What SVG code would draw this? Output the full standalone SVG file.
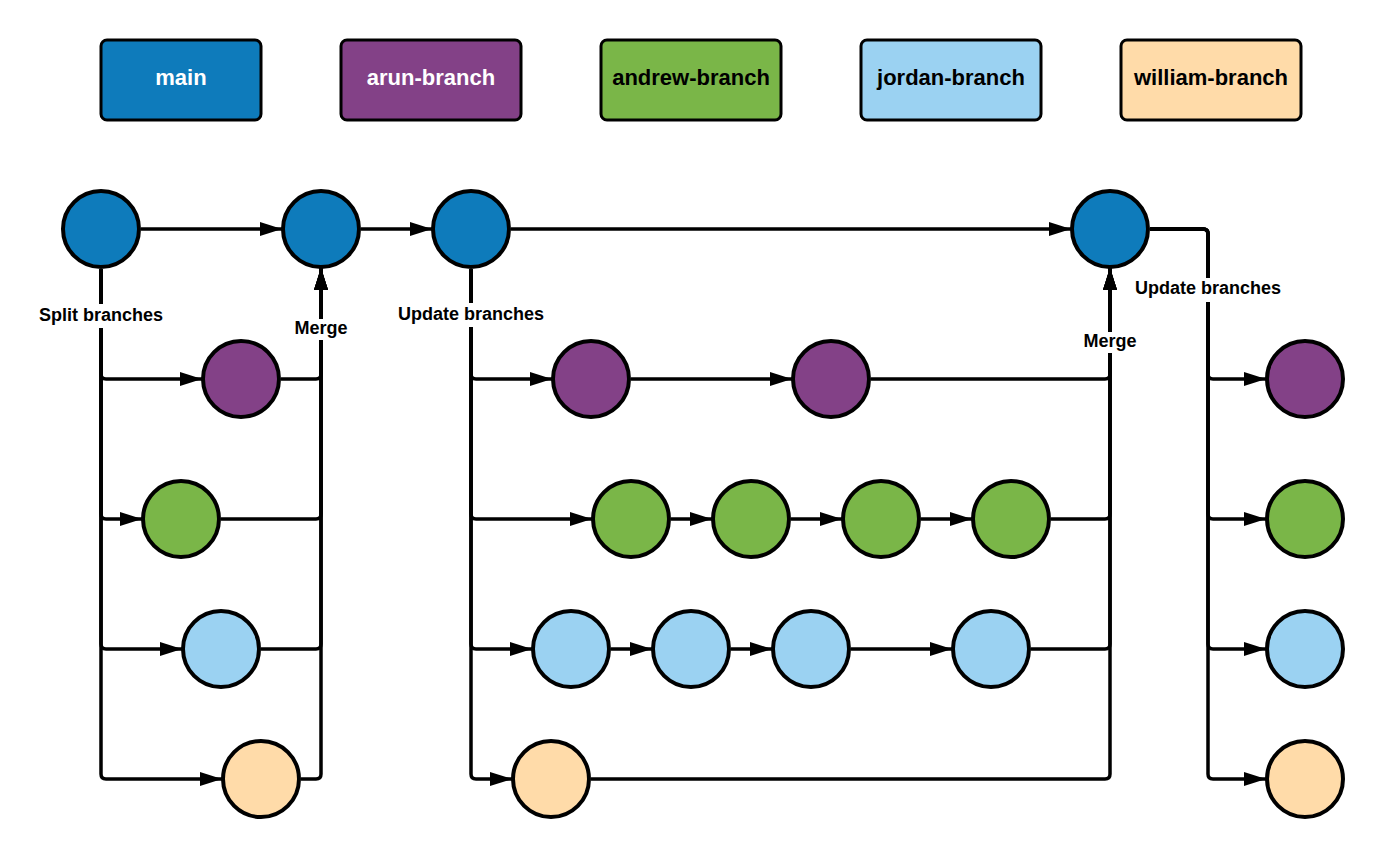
<svg xmlns="http://www.w3.org/2000/svg" width="1385" height="860" viewBox="0 0 1385 860">
<style>
.box{stroke:#000;stroke-width:3}
.lt{font-family:"Liberation Sans",Arial,sans-serif;font-weight:bold;font-size:22px;text-anchor:middle}
.c{stroke:#000;stroke-width:4}
.main{fill:#0e7bbb}.arun{fill:#834187}.andrew{fill:#7ab648}.jordan{fill:#9bd2f2}.william{fill:#ffdba9}
.conn path{fill:none;stroke:#000;stroke-width:3.5}
.lbl{font-family:"Liberation Sans",Arial,sans-serif;font-weight:bold;font-size:18px;text-anchor:middle;fill:#000}
.bg{fill:#fff}
</style>
<defs>
<marker id="ah" markerUnits="userSpaceOnUse" markerWidth="23" markerHeight="15" refX="22" refY="7" orient="auto" viewBox="0 0 23 15">
<path d="M0,0 L22,7 L0,14 z" fill="#000"/>
</marker>
</defs>
<rect width="1385" height="860" fill="#fff"/>
<g id="legend">
<g id="legend-main"><rect class="box main" x="101" y="40" width="160" height="80" rx="6"/><text class="lt" x="181" y="85" fill="#fff">main</text></g>
<g id="legend-arun"><rect class="box arun" x="341" y="40" width="180" height="80" rx="6"/><text class="lt" x="431" y="85" fill="#fff">arun-branch</text></g>
<g id="legend-andrew"><rect class="box andrew" x="601" y="40" width="180" height="80" rx="6"/><text class="lt" x="691" y="85" fill="#000">andrew-branch</text></g>
<g id="legend-jordan"><rect class="box jordan" x="861" y="40" width="180" height="80" rx="6"/><text class="lt" x="951" y="85" fill="#000">jordan-branch</text></g>
<g id="legend-william"><rect class="box william" x="1121" y="40" width="180" height="80" rx="6"/><text class="lt" x="1211" y="85" fill="#000">william-branch</text></g>
</g>
<g id="connectors" class="conn">
<path d="M141,229 H282" marker-end="url(#ah)"/>
<path d="M361,229 H432" marker-end="url(#ah)"/>
<path d="M511,229 H1071" marker-end="url(#ah)"/>
<path d="M101,269 V374 Q101,379 106,379 H202" marker-end="url(#ah)"/>
<path d="M101,269 V514 Q101,519 106,519 H142" marker-end="url(#ah)"/>
<path d="M101,269 V644 Q101,649 106,649 H182" marker-end="url(#ah)"/>
<path d="M101,269 V774 Q101,779 106,779 H222" marker-end="url(#ah)"/>
<path d="M281,379 H316 Q321,379 321,374 V268" marker-end="url(#ah)"/>
<path d="M221,519 H316 Q321,519 321,514 V268" marker-end="url(#ah)"/>
<path d="M261,649 H316 Q321,649 321,644 V268" marker-end="url(#ah)"/>
<path d="M301,779 H316 Q321,779 321,774 V268" marker-end="url(#ah)"/>
<path d="M471,269 V374 Q471,379 476,379 H552" marker-end="url(#ah)"/>
<path d="M471,269 V514 Q471,519 476,519 H592" marker-end="url(#ah)"/>
<path d="M471,269 V644 Q471,649 476,649 H532" marker-end="url(#ah)"/>
<path d="M471,269 V774 Q471,779 476,779 H512" marker-end="url(#ah)"/>
<path d="M631,379 H792" marker-end="url(#ah)"/>
<path d="M671,519 H712" marker-end="url(#ah)"/>
<path d="M791,519 H842" marker-end="url(#ah)"/>
<path d="M921,519 H972" marker-end="url(#ah)"/>
<path d="M611,649 H652" marker-end="url(#ah)"/>
<path d="M731,649 H772" marker-end="url(#ah)"/>
<path d="M851,649 H952" marker-end="url(#ah)"/>
<path d="M871,379 H1105 Q1110,379 1110,374 V268" marker-end="url(#ah)"/>
<path d="M1051,519 H1105 Q1110,519 1110,514 V268" marker-end="url(#ah)"/>
<path d="M1031,649 H1105 Q1110,649 1110,644 V268" marker-end="url(#ah)"/>
<path d="M591,779 H1105 Q1110,779 1110,774 V268" marker-end="url(#ah)"/>
<path d="M1150,229 H1203 Q1208,229 1208,234 V374 Q1208,379 1213,379 H1266" marker-end="url(#ah)"/>
<path d="M1150,229 H1203 Q1208,229 1208,234 V514 Q1208,519 1213,519 H1266" marker-end="url(#ah)"/>
<path d="M1150,229 H1203 Q1208,229 1208,234 V644 Q1208,649 1213,649 H1266" marker-end="url(#ah)"/>
<path d="M1150,229 H1203 Q1208,229 1208,234 V774 Q1208,779 1213,779 H1266" marker-end="url(#ah)"/>
</g>
<g id="labels">
<rect class="bg" x="36" y="304" width="130" height="24"/><text class="lbl" x="101" y="321">Split branches</text>
<rect class="bg" x="292" y="319" width="58" height="21"/><text class="lbl" x="321" y="334">Merge</text>
<rect class="bg" x="395" y="303" width="152" height="24"/><text class="lbl" x="471" y="320">Update branches</text>
<rect class="bg" x="1081" y="332" width="58" height="21"/><text class="lbl" x="1110" y="347">Merge</text>
<rect class="bg" x="1132" y="278" width="152" height="24"/><text class="lbl" x="1208" y="294">Update branches</text>
</g>
<g id="n-main-1"><circle class="c main" cx="101" cy="229" r="38"/></g>
<g id="n-main-2"><circle class="c main" cx="321" cy="229" r="38"/></g>
<g id="n-main-3"><circle class="c main" cx="471" cy="229" r="38"/></g>
<g id="n-main-4"><circle class="c main" cx="1110" cy="229" r="38"/></g>
<g id="n-arun-1"><circle class="c arun" cx="241" cy="379" r="38"/></g>
<g id="n-andrew-1"><circle class="c andrew" cx="181" cy="519" r="38"/></g>
<g id="n-jordan-1"><circle class="c jordan" cx="221" cy="649" r="38"/></g>
<g id="n-william-1"><circle class="c william" cx="261" cy="779" r="38"/></g>
<g id="n-arun-2"><circle class="c arun" cx="591" cy="379" r="38"/></g>
<g id="n-arun-3"><circle class="c arun" cx="831" cy="379" r="38"/></g>
<g id="n-andrew-2"><circle class="c andrew" cx="631" cy="519" r="38"/></g>
<g id="n-andrew-3"><circle class="c andrew" cx="751" cy="519" r="38"/></g>
<g id="n-andrew-4"><circle class="c andrew" cx="881" cy="519" r="38"/></g>
<g id="n-andrew-5"><circle class="c andrew" cx="1011" cy="519" r="38"/></g>
<g id="n-jordan-2"><circle class="c jordan" cx="571" cy="649" r="38"/></g>
<g id="n-jordan-3"><circle class="c jordan" cx="691" cy="649" r="38"/></g>
<g id="n-jordan-4"><circle class="c jordan" cx="811" cy="649" r="38"/></g>
<g id="n-jordan-5"><circle class="c jordan" cx="991" cy="649" r="38"/></g>
<g id="n-william-2"><circle class="c william" cx="551" cy="779" r="38"/></g>
<g id="n-arun-4"><circle class="c arun" cx="1305" cy="379" r="38"/></g>
<g id="n-andrew-6"><circle class="c andrew" cx="1305" cy="519" r="38"/></g>
<g id="n-jordan-6"><circle class="c jordan" cx="1305" cy="649" r="38"/></g>
<g id="n-william-3"><circle class="c william" cx="1305" cy="779" r="38"/></g>
</svg>
